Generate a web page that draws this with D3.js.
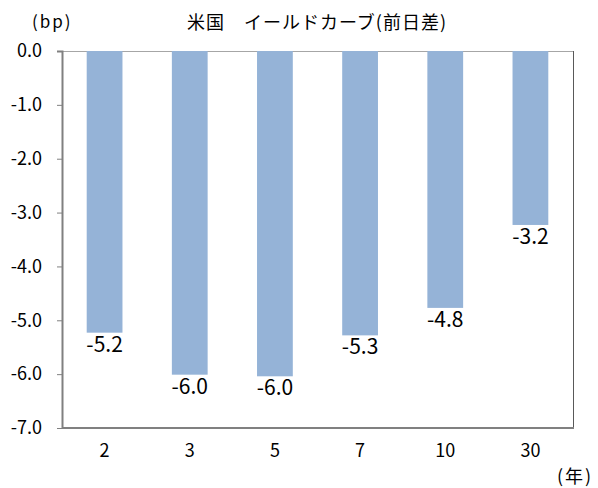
<!DOCTYPE html>
<html lang="ja">
<head>
<meta charset="UTF-8">
<title>米国 イールドカーブ(前日差)</title>
<script src="https://d3js.org/d3.v7.min.js"></script>
<style>
  html, body { margin: 0; padding: 0; background: #fff; overflow: hidden; }
  svg { display: block; }
  text { font-family: "Noto Sans CJK JP", "Noto Sans", sans-serif; fill: #000; }
</style>
</head>
<body>
<svg class="chart" width="598" height="488"></svg>
<script>
// data
const maturities = ['2', '3', '5', '7', '10', '30'];
const changes = [-5.23, -6.01, -6.04, -5.28, -4.77, -3.23];
const yTicks = [0, -1, -2, -3, -4, -5, -6, -7];

const svg = d3.select('.chart');
const width = +svg.attr('width');
const height = +svg.attr('height');
const margin = { top: 51, right: 25, bottom: 60, left: 62 };
const innerWidth = width - margin.left - margin.right;
const innerHeight = height - margin.top - margin.bottom;

const rows = maturities.map((m, i) => ({ m: m, v: changes[i] }));
const fmt = d => d3.format('.1f')(d).replace('−', '-');

const xScale = d3.scaleBand()
    .domain(maturities)
    .range([0, innerWidth])
    .paddingInner(0.58)
    .paddingOuter(0.29);

const yScale = d3.scaleLinear()
    .domain([0, -7])
    .range([0, innerHeight]);

const g = svg.append('g')
    .attr('transform', `translate(${margin.left}, ${margin.top})`);

// frame: top and right border
g.append('line')
    .attr('x1', 0).attr('x2', innerWidth)
    .attr('y1', 0.5).attr('y2', 0.5)
    .attr('stroke', '#a6a6a6');
g.append('line')
    .attr('x1', innerWidth + 0.5).attr('x2', innerWidth + 0.5)
    .attr('y1', 0).attr('y2', innerHeight)
    .attr('stroke', '#595959');

// bars
g.selectAll('.bar').data(rows).enter().append('rect')
    .attr('class', 'bar')
    .attr('x', d => xScale(d.m))
    .attr('y', yScale(0))
    .attr('width', xScale.bandwidth())
    .attr('height', d => yScale(d.v) - yScale(0))
    .attr('fill', '#95b3d7');

// value labels
g.selectAll('.lbl').data(rows).enter().append('text')
    .attr('class', 'lbl')
    .attr('x', d => xScale(d.m) + xScale.bandwidth() / 2)
    .attr('y', d => yScale(d.v) + 19)
    .attr('text-anchor', 'middle')
    .attr('font-size', 21)
    .text(d => fmt(d.v));

// y axis
const yAxis = d3.axisLeft(yScale)
    .tickValues(yTicks)
    .tickSize(5)
    .tickPadding(15)
    .tickFormat(fmt);
const yg = g.append('g').call(yAxis)
    .attr('font-size', 18)
    .attr('font-family', '"Noto Sans CJK JP", sans-serif');
yg.select('.domain').attr('stroke', '#808080').attr('stroke-width', 2).attr('d', `M-5,0.5H0.5V${innerHeight}`);
yg.selectAll('.tick line').attr('stroke', '#808080');

// x axis
const xAxis = d3.axisBottom(xScale).tickSize(0).tickPadding(16);
const xg = g.append('g')
    .attr('transform', `translate(0, ${innerHeight})`)
    .call(xAxis)
    .attr('font-size', 18)
    .attr('font-family', '"Noto Sans CJK JP", sans-serif');
xg.select('.domain').attr('stroke', '#808080').attr('stroke-width', 2).attr('d', `M0,0H${innerWidth + 1}`);

// titles
svg.append('text')
    .attr('x', 317).attr('y', 29)
    .attr('text-anchor', 'middle')
    .attr('font-size', 18)
    .attr('letter-spacing', 1)
    .text('米国　イールドカーブ(前日差)');
svg.append('text')
    .attr('x', 32).attr('y', 28)
    .attr('font-size', 17)
    .attr('letter-spacing', 2)
    .text('(bp)');
svg.append('text')
    .attr('x', 557).attr('y', 483)
    .attr('font-size', 18)
    .attr('letter-spacing', 2)
    .text('(年)');
</script>
</body>
</html>
